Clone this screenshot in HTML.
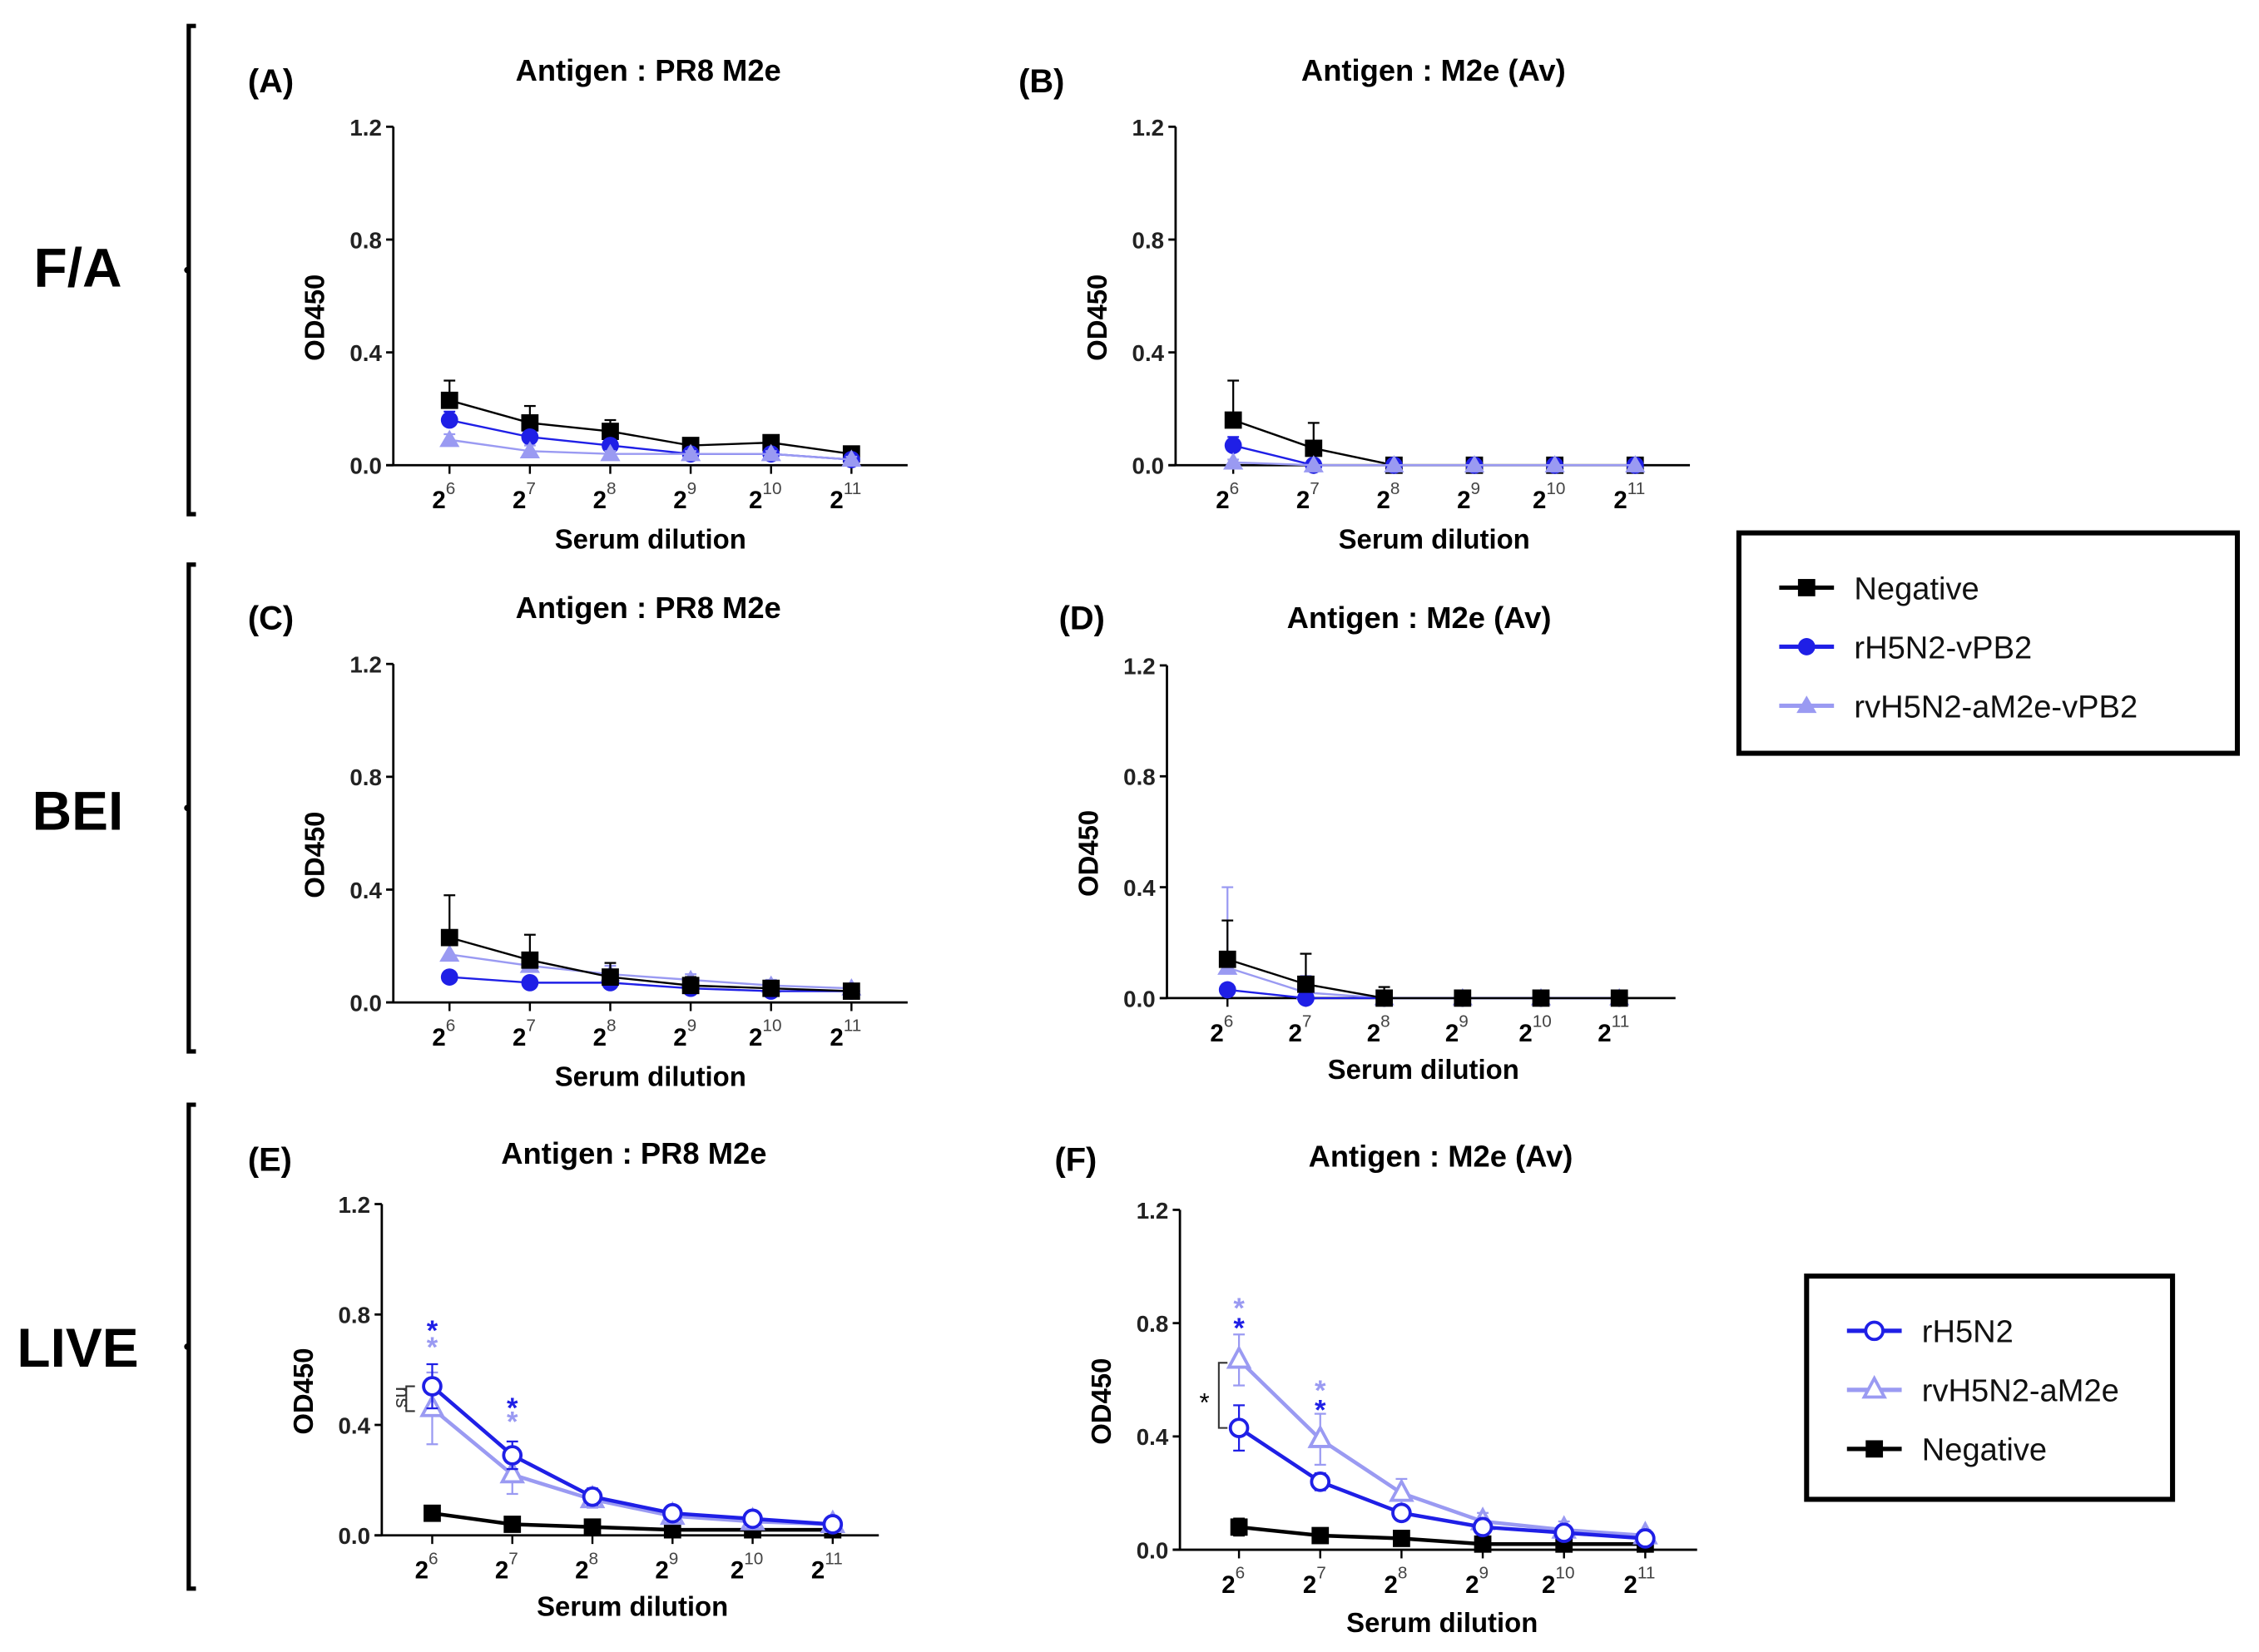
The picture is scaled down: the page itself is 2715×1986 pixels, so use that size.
<!DOCTYPE html>
<html><head><meta charset="utf-8"><style>
html,body{margin:0;padding:0;background:#fff;}
svg{display:block;font-family:"Liberation Sans",Arial,sans-serif;}
</style></head><body>
<svg id="fig" width="2715" height="1986" viewBox="0 0 1568 1147" xmlns="http://www.w3.org/2000/svg"></svg>
<script>
const NS="http://www.w3.org/2000/svg";
const svg=document.getElementById('fig');
const BLUE="#1f1fe6", LIGHT="#9a9af2", BLACK="#000";

// ---- data ----
const dilutionExponents=[6,7,8,9,10,11];
const yTicks=[0,0.4,0.8,1.2];
const yTickLabels=["0.0","0.4","0.8","1.2"];
// Panel A
const aNeg=[0.23,0.15,0.12,0.07,0.08,0.04];
const aNegErr=[0.07,0.06,0.04,0.02,0.02,0.01];
const aBlue=[0.16,0.10,0.07,0.04,0.04,0.02];
const aBlueErr=[0.03,0.02,0.02,0.01,0.01,0.01];
const aLight=[0.09,0.05,0.04,0.04,0.04,0.02];
const aLightErr=[0.02,0.02,0.01,0.01,0.01,0.01];
// Panel B
const bNeg=[0.16,0.06,0,0,0,0];
const bNegErr=[0.14,0.09,0,0,0,0];
const bBlue=[0.07,0,0,0,0,0];
const bBlueErr=[0.03,0,0,0,0,0];
const bLight=[0.01,0,0,0,0,0];
const bLightErr=[0.01,0,0,0,0,0];
// Panel C
const cNeg=[0.23,0.15,0.09,0.06,0.05,0.04];
const cNegErr=[0.15,0.09,0.05,0.03,0.02,0.01];
const cBlue=[0.09,0.07,0.07,0.05,0.04,0.04];
const cBlueErr=[0.02,0.01,0.01,0.01,0.01,0.01];
const cLight=[0.17,0.13,0.10,0.08,0.06,0.05];
const cLightErr=[0.05,0.04,0.03,0.02,0.02,0.01];
// Panel D
const dNeg=[0.14,0.05,0,0,0,0];
const dNegErr=[0.14,0.11,0.04,0,0,0];
const dBlue=[0.03,0,0,0,0,0];
const dBlueErr=[0.02,0,0,0,0,0];
const dLight=[0.11,0.02,0,0,0,0];
const dLightErr=[0.29,0.06,0,0,0,0];
// Panel E
const eBlue=[0.54,0.29,0.14,0.08,0.06,0.04];
const eBlueErr=[0.08,0.05,0.03,0.02,0.02,0.01];
const eLight=[0.46,0.22,0.13,0.07,0.05,0.04];
const eLightErr=[0.13,0.07,0.03,0.02,0.02,0.01];
const eNeg=[0.08,0.04,0.03,0.02,0.02,0.02];
const eNegErr=[0.01,0.01,0.01,0.01,0.01,0.01];
// Panel F
const fBlue=[0.43,0.24,0.13,0.08,0.06,0.04];
const fBlueErr=[0.08,0.03,0.02,0.02,0.02,0.01];
const fLight=[0.67,0.39,0.20,0.10,0.07,0.05];
const fLightErr=[0.09,0.09,0.05,0.03,0.03,0.02];
const fNeg=[0.08,0.05,0.04,0.02,0.02,0.02];
const fNegErr=[0.03,0.02,0.01,0.01,0.01,0.01];

function el(tag,attrs,parent,text){
  const e=document.createElementNS(NS,tag);
  for(const k in attrs)e.setAttribute(k,attrs[k]);
  if(text!==undefined)e.textContent=text;
  (parent||svg).appendChild(e);return e;
}

const panels=[
 {id:'a',label:'(A)',lx:172,ly:64,title:'Antigen : PR8 M2e',tx:450,ty:56,ax:273,top:88,zero:323,x0:312,x1:591,end:630,sd:381,
  series:[['negative',aNeg,aNegErr,BLACK,'square'],['rh5n2-vpb2',aBlue,aBlueErr,BLUE,'circle'],['rvh5n2-am2e-vpb2',aLight,aLightErr,LIGHT,'triangle']]},
 {id:'b',label:'(B)',lx:707,ly:64,title:'Antigen : M2e (Av)',tx:995,ty:56,ax:816,top:88,zero:323,x0:856,x1:1135,end:1173,sd:381,
  series:[['negative',bNeg,bNegErr,BLACK,'square'],['rh5n2-vpb2',bBlue,bBlueErr,BLUE,'circle'],['rvh5n2-am2e-vpb2',bLight,bLightErr,LIGHT,'triangle']]},
 {id:'c',label:'(C)',lx:172,ly:437,title:'Antigen : PR8 M2e',tx:450,ty:429,ax:273,top:461,zero:696,x0:312,x1:591,end:630,sd:754,
  series:[['rvh5n2-am2e-vpb2',cLight,cLightErr,LIGHT,'triangle'],['rh5n2-vpb2',cBlue,cBlueErr,BLUE,'circle'],['negative',cNeg,cNegErr,BLACK,'square']]},
 {id:'d',label:'(D)',lx:735,ly:437,title:'Antigen : M2e (Av)',tx:985,ty:436,ax:810,top:462,zero:693,x0:852,x1:1124,end:1163,sd:749,
  series:[['rvh5n2-am2e-vpb2',dLight,dLightErr,LIGHT,'triangle'],['rh5n2-vpb2',dBlue,dBlueErr,BLUE,'circle'],['negative',dNeg,dNegErr,BLACK,'square']]},
 {id:'e',label:'(E)',lx:172,ly:813,title:'Antigen : PR8 M2e',tx:440,ty:808,ax:265,top:836,zero:1066,x0:300,x1:578,end:610,sd:1122,
  series:[['negative',eNeg,eNegErr,BLACK,'square'],['rvh5n2-am2e',eLight,eLightErr,LIGHT,'open-triangle'],['rh5n2',eBlue,eBlueErr,BLUE,'open-circle']]},
 {id:'f',label:'(F)',lx:732,ly:813,title:'Antigen : M2e (Av)',tx:1000,ty:810,ax:819,top:840,zero:1076,x0:860,x1:1142,end:1178,sd:1133,
  series:[['negative',fNeg,fNegErr,BLACK,'square'],['rvh5n2-am2e',fLight,fLightErr,LIGHT,'open-triangle'],['rh5n2',fBlue,fBlueErr,BLUE,'open-circle']]}
];

function marker(g,shape,x,y,color,name){
  let m;
  if(shape==='square')m=el('rect',{x:x-6,y:y-6,width:12,height:12,fill:color},g);
  else if(shape==='circle')m=el('circle',{cx:x,cy:y,r:6,fill:color},g);
  else if(shape==='triangle')m=el('polygon',{points:`${x},${y-7} ${x-7},${y+5} ${x+7},${y+5}`,fill:color},g);
  else if(shape==='open-circle')m=el('circle',{cx:x,cy:y,r:6,fill:'#fff',stroke:color,'stroke-width':2.2},g);
  else m=el('polygon',{points:`${x},${y-8} ${x-7},${y+5} ${x+7},${y+5}`,fill:'#fff',stroke:color,'stroke-width':2.2},g);
  
  
}

panels.forEach(p=>{
  const g=el('g',{});
  
  
  const xs=i=>p.x0+(p.x1-p.x0)*i/(dilutionExponents.length-1);
  const ys=v=>p.zero-(p.zero-p.top)*v/1.2;
  const lab=el('text',{x:p.lx,y:p.ly,'font-size':23,'font-weight':'bold'},g,p.label);
  
  const t=el('text',{x:p.tx,y:p.ty,'font-size':21,'font-weight':'bold','text-anchor':'middle'},g,p.title);
  
  const ya=el('line',{x1:p.ax,y1:p.top,x2:p.ax,y2:p.zero,stroke:'#000','stroke-width':1.6},g);
  
  const xa=el('line',{x1:p.ax-5,y1:p.zero,x2:p.end,y2:p.zero,stroke:'#000','stroke-width':1.6},g);
  
  yTicks.forEach((v,i)=>{
    el('line',{x1:p.ax-5,y1:ys(v),x2:p.ax,y2:ys(v),stroke:'#000','stroke-width':1.6},g);
    const tl=el('text',{x:p.ax-8,y:ys(v)+6,'font-size':16,'font-weight':'bold','text-anchor':'end',fill:'#222'},g,yTickLabels[i]);
    
  });
  dilutionExponents.forEach((e,i)=>{
    el('line',{x1:xs(i),y1:p.zero,x2:xs(i),y2:p.zero+6,stroke:'#000','stroke-width':1.4},g);
    const tl=el('text',{x:xs(i)-4,y:p.zero+30,'font-size':17,'font-weight':'bold','text-anchor':'middle'},g,'2');
    
    el('tspan',{dx:0,dy:-10,'font-size':12,'font-weight':'normal',fill:'#444'},tl,String(e));
  });
  const yl=el('text',{x:0,y:0,'font-size':19,'font-weight':'bold','text-anchor':'middle',transform:`translate(${p.ax-48},${(p.top+p.zero)/2+15}) rotate(-90)`},g,'OD450');
  
  const xl=el('text',{x:(p.x0+p.x1)/2,y:p.sd,'font-size':19,'font-weight':'bold','text-anchor':'middle'},g,'Serum dilution');
  
  p.series.forEach(s=>{
    const [name,vals,errs,color,shape]=s;
    const sg=el('g',{},g);
    
    const pts=vals.map((v,i)=>`${xs(i)},${ys(v)}`).join(' ');
    const heavy=(p.id==='e'||p.id==='f');
    el('polyline',{points:pts,fill:'none',stroke:color,'stroke-width':heavy?2.6:1.4},sg);
    vals.forEach((v,i)=>{
      if(errs[i]>0){
        el('line',{x1:xs(i),y1:ys(v),x2:xs(i),y2:ys(v+errs[i]),stroke:color,'stroke-width':1.3},sg);
        el('line',{x1:xs(i)-4,y1:ys(v+errs[i]),x2:xs(i)+4,y2:ys(v+errs[i]),stroke:color,'stroke-width':1.3},sg);
        if(heavy){
          el('line',{x1:xs(i),y1:ys(v),x2:xs(i),y2:ys(Math.max(0,v-errs[i])),stroke:color,'stroke-width':1.3},sg);
          el('line',{x1:xs(i)-4,y1:ys(Math.max(0,v-errs[i])),x2:xs(i)+4,y2:ys(Math.max(0,v-errs[i])),stroke:color,'stroke-width':1.3},sg);
        }
      }
      marker(sg,shape,xs(i),ys(v),color,'point-'+name);
    });
  });
  p.xs=xs;p.ys=ys;
});

// significance markers
function star(x,y,color){const s=el('text',{x:x,y:y,'font-size':20,'font-weight':'bold','text-anchor':'middle',fill:color},svg,'*');
  }
const E=panels[4],F=panels[5];
star(E.xs(0),E.ys(0.76)+10,BLUE);star(E.xs(0),E.ys(0.70)+10,LIGHT);
star(E.xs(1),E.ys(0.48)+10,BLUE);star(E.xs(1),E.ys(0.43)+10,LIGHT);
star(F.xs(0),F.ys(0.87)+10,LIGHT);star(F.xs(0),F.ys(0.80)+10,BLUE);
star(F.xs(1),F.ys(0.58)+10,LIGHT);star(F.xs(1),F.ys(0.51)+10,BLUE);
// ns bracket E
el('path',{d:`M${E.xs(0)-12},${E.ys(0.54)} h-6 V${E.ys(0.45)} h6`,fill:'none',stroke:'#333','stroke-width':1.2});
const ns=el('text',{x:0,y:0,'font-size':14,fill:'#333','text-anchor':'middle',transform:`translate(${E.xs(0)-25},${E.ys(0.5)}) rotate(90)`},svg,'ns');

el('path',{d:`M${F.xs(0)-8},${F.ys(0.66)} h-6 V${F.ys(0.43)} h6`,fill:'none',stroke:'#333','stroke-width':1.2});
const fs=el('text',{x:F.xs(0)-24,y:F.ys(0.54)+10,'font-size':18,'text-anchor':'middle'},svg,'*');


// group labels and brackets
[['F/A',54,199,'fa'],['BEI',54,576,'bei'],['LIVE',54,949,'live']].forEach(d=>{
  const t=el('text',{x:d[1],y:d[2],'font-size':38,'font-weight':'bold','text-anchor':'middle'},svg,d[0]);
  
});
[[18,357],[392,730],[767,1103]].forEach(b=>{
  const p=el('path',{d:`M136,${b[0]} h-5 V${b[1]} h5`,fill:'none',stroke:'#000','stroke-width':3});
  
  el('circle',{cx:130,cy:(b[0]+b[1])/2,r:2.2,fill:'#000'});
});

// legends
function legend(x,y,w,h,entries,rowStart,rowGap,name){
  const g=el('g',{});
  
  el('rect',{x:x,y:y,width:w,height:h,fill:'#fff',stroke:'#000','stroke-width':3.5},g);
  entries.forEach((en,i)=>{
    const yy=y+rowStart+i*rowGap;
    const eg=el('g',{},g);
    
    el('line',{x1:x+28,y1:yy,x2:x+66,y2:yy,stroke:en[1],'stroke-width':3},eg);
    marker(eg,en[2],x+47,yy,en[1],'legend-marker');
    el('text',{x:x+80,y:yy+8,'font-size':22,fill:'#111'},eg,en[0]);
  });
}
legend(1207,370,346,153,[['Negative',BLACK,'square'],['rH5N2-vPB2',BLUE,'circle'],['rvH5N2-aM2e-vPB2',LIGHT,'triangle']],38,41,'legend-inactivated');
legend(1254,886,254,155,[['rH5N2',BLUE,'open-circle'],['rvH5N2-aM2e',LIGHT,'open-triangle'],['Negative',BLACK,'square']],38,41,'legend-live');
</script>
</body></html>
